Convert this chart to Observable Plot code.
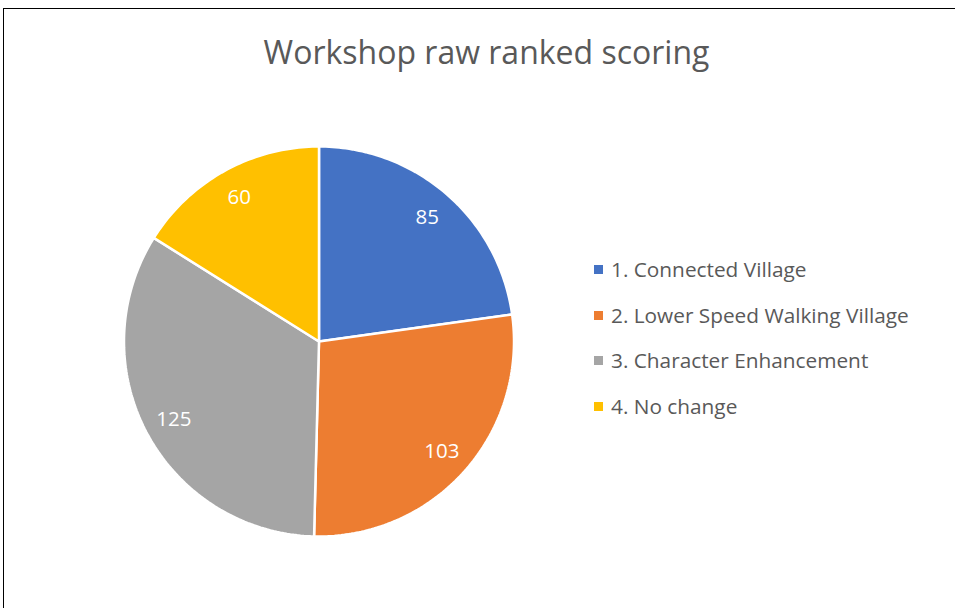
<!DOCTYPE html>
<html><head><meta charset="utf-8">
<script src="https://cdn.jsdelivr.net/npm/d3@7"></script>
<script src="https://cdn.jsdelivr.net/npm/@observablehq/plot@0.6"></script>
<style>
html,body{margin:0;padding:0;background:#fff;}
#wrap{position:relative;width:955px;height:608px;overflow:hidden;font-family:"Open Sans",sans-serif;}
#frame{position:absolute;left:3px;top:8px;width:1000px;height:700px;border-left:1.5px solid #000;border-top:1.5px solid #000;}
#title{position:absolute;left:0;width:973px;top:36px;text-align:center;font-size:32px;color:#595959;line-height:1;white-space:nowrap;}
#chart{position:absolute;left:0;top:0;}
#legend{position:absolute;left:594px;top:254px;}
.row{height:45.7px;display:flex;align-items:flex-start;font-size:20.8px;color:#595959;white-space:nowrap;line-height:30px;}
.sw{width:9px;height:9px;margin-right:8px;margin-top:11px;flex:none;}
</style></head>
<body><div id="wrap"><div id="frame"></div><div id="title">Workshop raw ranked scoring</div><div id="chart"></div><div id="legend"></div></div>
<script>
const categories = ["1. Connected Village","2. Lower Speed Walking Village","3. Character Enhancement","4. No change"];
const values = [85, 103, 125, 60];
const colors = ["#4472C4", "#ED7D31", "#A5A5A5", "#FFC000"];

const W = 955, H = 608, cx = 318.5, cy = 341, R = 195, labelR = 0.845;

const arcs = d3.pie().sort(null).value(d => d)(values);
const pts = [];
const labels = [];
arcs.forEach((a, i) => {
  const cat = categories[i];
  pts.push({cat, x: 0, y: 0});
  const n = Math.max(2, Math.ceil((a.endAngle - a.startAngle) / (Math.PI * 2) * 360));
  for (let k = 0; k <= n; k++) {
    const t = a.startAngle + (a.endAngle - a.startAngle) * k / n;
    pts.push({cat, x: Math.sin(t), y: Math.cos(t)});
  }
  pts.push({cat, x: 0, y: 0});
  const m = (a.startAngle + a.endAngle) / 2;
  labels.push({cat, x: labelR * Math.sin(m), y: labelR * Math.cos(m), text: String(values[i])});
});

const plot = Plot.plot({
  width: W, height: H, margin: 0,
  style: {fontFamily: "Open Sans", background: "transparent"},
  x: {domain: [-cx / R, (W - cx) / R], axis: null},
  y: {domain: [-(H - cy) / R, cy / R], axis: null},
  color: {domain: categories, range: colors},
  marks: [
    Plot.line(pts, {x: "x", y: "y", z: "cat", fill: "cat", stroke: "white", strokeWidth: 2.5, curve: "linear", strokeLinejoin: "miter"}),
    Plot.text(labels, {x: "x", y: "y", text: "text", fill: "white", fontSize: 20.5})
  ]
});
document.getElementById("chart").appendChild(plot);

const leg = document.getElementById("legend");
categories.forEach((c, i) => {
  const row = document.createElement("div");
  row.className = "row";
  const sw = document.createElement("div");
  sw.className = "sw";
  sw.style.background = colors[i];
  const tx = document.createElement("span");
  tx.textContent = c;
  row.appendChild(sw); row.appendChild(tx);
  leg.appendChild(row);
});
</script></body></html>
